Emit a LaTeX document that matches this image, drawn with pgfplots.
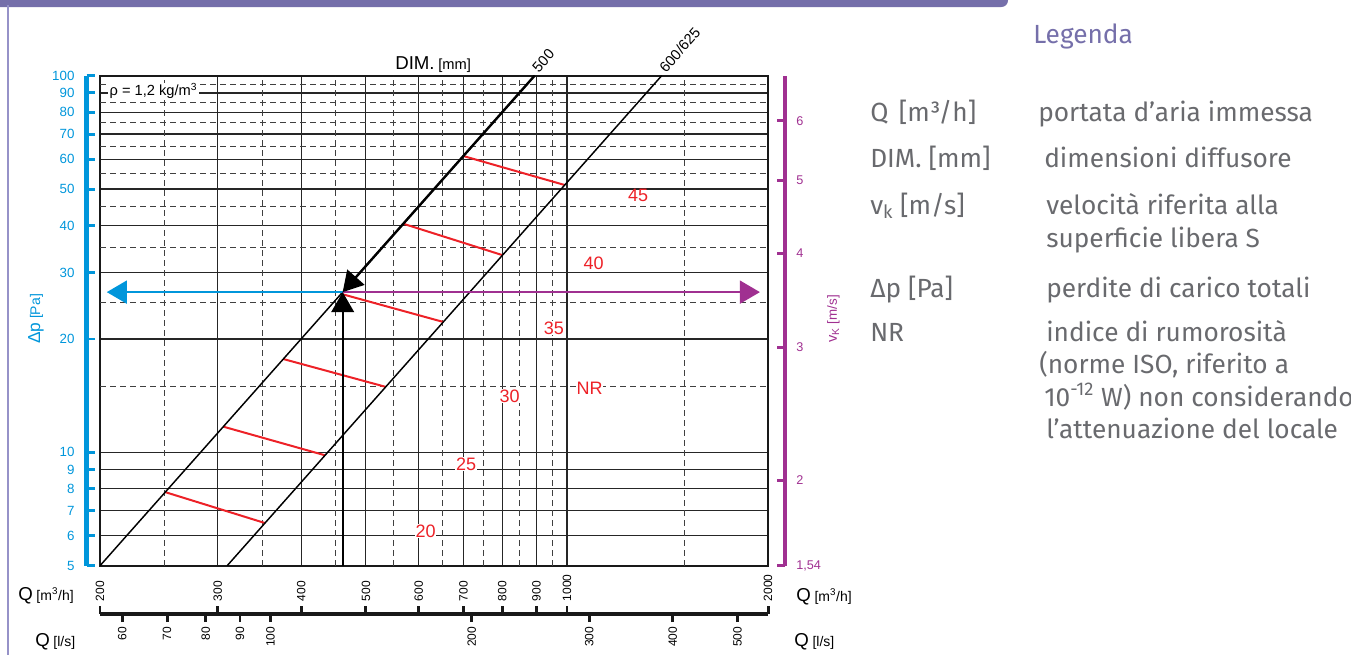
\documentclass[border=0pt]{standalone}
\usepackage{fontspec}
\setmainfont{Liberation Sans}
\newfontfamily\legfont{Fira Sans}
\usepackage{pgfplots}
\pgfplotsset{compat=1.18}
\usetikzlibrary{arrows.meta}
\definecolor{myblue}{RGB}{0,150,219}
\definecolor{mymag}{RGB}{160,48,145}
\definecolor{myred}{RGB}{237,33,39}
\definecolor{barcol}{RGB}{117,111,170}
\definecolor{linecol}{RGB}{150,146,200}
\definecolor{leggray}{RGB}{105,106,110}
\newcommand{\fs}[1]{\fontsize{#1}{#1}\selectfont}
\begin{document}
\begin{tikzpicture}
% ---------------- main nomogram ----------------
\begin{axis}[
  at={(75pt,-424.275pt)}, anchor=south west,
  scale only axis, width=501pt, height=367.5pt,
  xmode=log, ymode=log,
  xmin=200, xmax=2000, ymin=5, ymax=100,
  xtick={200,300,400,500,600,700,800,900,1000,2000},
  ytick={5,6,7,8,9,10,20,30,40,50,60,70,80,90,100},
  extra x ticks={250,350,450,550,650,750,850,950,1500},
  extra y ticks={15,25,35,45,55,65,75,85,95},
  extra x tick labels={}, extra y tick labels={},
  extra x tick style={grid=major, major grid style={black!75, line width=0.7pt, dash pattern=on 4.5pt off 3pt}},
  extra y tick style={grid=major, major grid style={black!75, line width=0.7pt, dash pattern=on 4.5pt off 3pt}},
  xticklabels={}, yticklabels={},
  major tick length=0pt, minor tick length=0pt,
  grid=major,
  major grid style={black!85, line width=0.9pt},
  axis line style={black!90, line width=1.6pt},
  clip mode=individual,
]
% NR lines
\addplot[myred, line width=1.5pt] coordinates {(250.5,7.84) (353.2,6.49)};
\addplot[myred, line width=1.5pt] coordinates {(305.9,11.70) (434.4,9.82)};
\addplot[myred, line width=1.5pt] coordinates {(376.2,17.69) (535.5,14.92)};
\addplot[myred, line width=1.5pt] coordinates {(459.1,26.35) (653.0,22.19)};
\addplot[myred, line width=1.5pt] coordinates {(568.9,40.45) (801.0,33.38)};
\addplot[myred, line width=1.5pt] coordinates {(699.7,61.20) (992.5,51.25)};
% DIM lines
\addplot[black, line width=1.1pt] coordinates {(200,5) (894.4,100)};
\addplot[black, line width=1.1pt] coordinates {(310,5) (1386,100)};
% reading arrows
\addplot[myblue, line width=2pt, -{Triangle[length=15pt,width=17pt]}] coordinates {(461.6,26.63) (204.7,26.63)};
\addplot[mymag, line width=2pt, -{Triangle[length=15pt,width=17pt]}] coordinates {(461.6,26.63) (1945,26.63)};
\addplot[black, line width=1.5pt, -{Triangle[length=15pt,width=17pt]}] coordinates {(461.6,5) (461.6,26.63)};
\addplot[black, line width=1.8pt, -{Triangle[length=15pt,width=17pt]}] coordinates {(894.4,100) (461.6,26.63)};
% NR labels
\node[text=myred, font=\fs{13.5}, inner sep=0pt] at (axis cs:1278,48.23) {45};
\node[text=myred, font=\fs{13.5}, inner sep=0pt] at (axis cs:1096,31.82) {40};
\node[text=myred, font=\fs{13.5}, fill=white, inner sep=0.5pt] at (axis cs:955.6,21.38) {35};
\node[text=myred, font=\fs{13.5}, fill=white, inner sep=0.5pt] at (axis cs:1081,14.82) {NR};
\node[text=myred, font=\fs{13.5}, fill=white, inner sep=0.5pt] at (axis cs:820.4,14.11) {30};
\node[text=myred, font=\fs{13.5}, fill=white, inner sep=0.5pt] at (axis cs:706.2,9.31) {25};
\node[text=myred, font=\fs{13.5}, fill=white, inner sep=0.5pt] at (axis cs:614.2,6.18) {20};
\end{axis}
% ---------------- Delta p scale (left, blue) ----------------
\begin{axis}[
  at={(64.875pt,-424.275pt)}, anchor=south west,
  scale only axis, width=10pt, height=367.5pt,
  ymode=log, ymin=5, ymax=100, xmin=0, xmax=1,
  hide x axis, axis y line=left,
  y axis line style={draw=myblue, line width=3.4pt, -},
  ytick={5,6,7,8,9,10,20,30,40,50,60,70,80,90,100},
  yticklabels={5,6,7,8,9,10,20,30,40,50,60,70,80,90,100},
  tick align=inside, major tick length=6pt,
  ytick style={draw=myblue, line width=2.2pt},
  yticklabel style={text=myblue, font=\fs{10}, xshift=-5.5pt},
]
\addplot[draw=none] coordinates {(0,10)};
\end{axis}
% ---------------- v_K scale (right, magenta) ----------------
\begin{axis}[
  at={(588.75pt,-424.275pt)}, anchor=south east,
  scale only axis, width=10pt, height=367.5pt,
  ymode=log, ymin=5, ymax=100, xmin=0, xmax=1,
  hide x axis, axis y line=right,
  y axis line style={draw=mymag, line width=2.5pt, -},
  ytick={5,8.433,18.97,33.73,52.71,75.90},
  yticklabels={{1,54},2,3,4,5,6},
  tick align=inside, major tick length=6pt,
  ytick style={draw=mymag, line width=2.2pt},
  yticklabel style={text=mymag, font=\fs{9.5}, xshift=5pt},
]
\addplot[draw=none] coordinates {(0,10)};
\end{axis}
% ---------------- Q scale m3/h (ticks up) ----------------
\begin{axis}[
  at={(75pt,-460.5pt)}, anchor=north west,
  scale only axis, width=501pt, height=10pt,
  xmode=log, xmin=200, xmax=2000, ymin=0, ymax=1,
  hide y axis, axis x line=top,
  x axis line style={draw=black!90, line width=3pt, -},
  xtick={200,300,400,500,600,700,800,900,1000,2000},
  xticklabels={200,300,400,500,600,700,800,900,1000,2000},
  tick align=outside, major tick length=6pt,
  xtick style={draw=black!90, line width=2.2pt},
  xticklabel style={rotate=90, anchor=west, font=\fs{9}},
]
\addplot[draw=none] coordinates {(300,0.5)};
\end{axis}
% ---------------- Q scale l/s (ticks down) ----------------
\begin{axis}[
  at={(75pt,-460.5pt)}, anchor=south west,
  scale only axis, width=501pt, height=10pt,
  xmode=log, xmin=55.5556, xmax=555.556, ymin=0, ymax=1,
  hide y axis, axis x line=bottom,
  x axis line style={draw=black!90, line width=3pt, -},
  xtick={60,70,80,90,100,200,300,400,500},
  xticklabels={60,70,80,90,100,200,300,400,500},
  tick align=outside, major tick length=6pt,
  xtick style={draw=black!90, line width=2.2pt},
  xticklabel style={rotate=90, anchor=east, font=\fs{9}},
]
\addplot[draw=none] coordinates {(100,0.5)};
\end{axis}
% ---------------- texts and decoration (pixel frame) ----------------
\begin{scope}[x=0.75pt,y=-0.75pt]
\fill[barcol, rounded corners=5pt] (-20,-20) rectangle (1008,7);
\fill[linecol] (7.3,5) rectangle (9.3,660);
\node[anchor=west, fill=white, inner xsep=1pt, inner ysep=0.3pt, font=\fs{11}] at (108,91) {ρ = 1,2 kg/m\textsuperscript{3}};
\node[anchor=base west, inner sep=0pt] at (395,69) {{\fs{14}DIM.} {\fs{11}[mm]}};
\node[rotate=48.6, anchor=west, font=\fs{11}, inner sep=0pt] at (535,70) {500};
\node[rotate=48.6, anchor=west, font=\fs{11}, inner sep=0pt] at (662,70) {600/625};
\node[rotate=90, text=myblue, inner sep=0pt] at (36,319) {{\fs{13}Δp} {\fs{10.5}[Pa]}};
\node[rotate=90, text=mymag, inner sep=0pt] at (833.5,319) {{\fs{11}v\textsubscript{K}} {\fs{10}[m/s]}};
\node[anchor=base west, inner sep=0pt] at (18,600) {{\fs{14}Q} {\fs{10.5}[m\textsuperscript{3}/h]}};
\node[anchor=base west, inner sep=0pt] at (796,601) {{\fs{14}Q} {\fs{10.5}[m\textsuperscript{3}/h]}};
\node[anchor=base west, inner sep=0pt] at (35,646) {{\fs{14}Q} {\fs{10.5}[l/s]}};
\node[anchor=base west, inner sep=0pt] at (794,646) {{\fs{14}Q} {\fs{10.5}[l/s]}};
% legend
\begin{scope}[every node/.style={anchor=base west, inner sep=0pt, text=leggray, font=\legfont\fs{19.7}}]
\node[text=barcol] at (1033,43) {Legenda};
\node at (870,121) {Q\hspace{0.4em}[m³/h]};
\node at (1038,121) {portata d’aria immessa};
\node at (870,167) {DIM. [mm]};
\node at (1044,167) {dimensioni diffusore};
\node at (870,214) {v\textsubscript{k} [m/s]};
\node at (1046,214) {velocità riferita alla};
\node at (1046,247) {superficie libera S};
\node at (870,297) {Δp [Pa]};
\node at (1046,297) {perdite di carico totali};
\node at (870,341) {NR};
\node at (1046,341) {indice di rumorosità};
\node at (1039,373) {(norme ISO, riferito a};
\node at (1044,406) {10\textsuperscript{-12} W) non considerando};
\node at (1046,438) {l’attenuazione del locale};
\end{scope}
\end{scope}
\pgfresetboundingbox
\path[use as bounding box] (0,0) rectangle (1013.25pt,-490.5pt);
\end{tikzpicture}
\end{document}
